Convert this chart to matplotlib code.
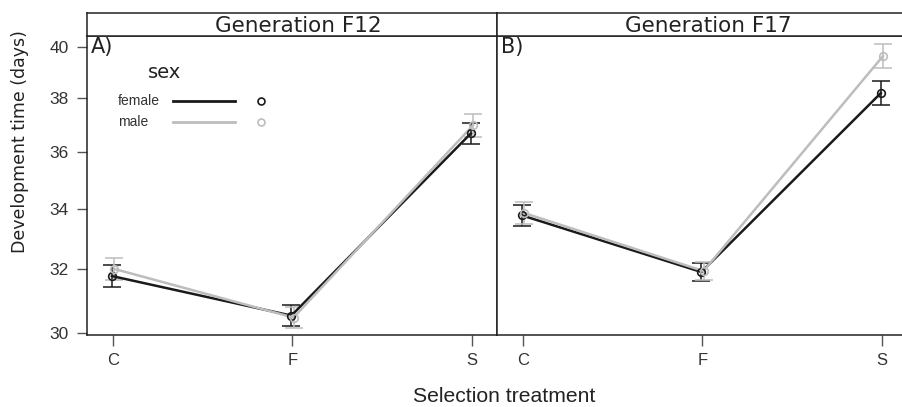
import matplotlib
matplotlib.use("Agg")
import matplotlib.pyplot as plt
import numpy as np
from matplotlib.ticker import FixedLocator, NullLocator, FixedFormatter

treatments = ["C", "F", "S"]
panels = ["Generation F12", "Generation F17"]
panel_tags = ["A)", "B)"]
sexes = ["female", "male"]
colors = {"female": "#1a1a1a", "male": "#bdbdbd"}

# means and standard errors (days)
f12_female_mean = [31.77, 30.53, 36.67]
f12_female_se = [0.35, 0.33, 0.39]
f12_male_mean = [32.00, 30.47, 36.97]
f12_male_se = [0.35, 0.33, 0.42]
f17_female_mean = [33.77, 31.90, 38.19]
f17_female_se = [0.37, 0.28, 0.46]
f17_male_mean = [33.85, 31.93, 39.64]
f17_male_se = [0.37, 0.28, 0.48]

yticks = [30, 32, 34, 36, 38, 40]

data = {
    0: {"female": (f12_female_mean, f12_female_se), "male": (f12_male_mean, f12_male_se)},
    1: {"female": (f17_female_mean, f17_female_se), "male": (f17_male_mean, f17_male_se)},
}

W, H = 902, 407
fig = plt.figure(figsize=(W / 100, H / 100), dpi=100)

def px_axes(x0, y0, x1, y1):
    return fig.add_axes([x0 / W, 1 - y1 / H, (x1 - x0) / W, (y1 - y0) / H])

panel_x = [(87, 497), (497, 907)]
top, bottom = 36, 335
strip_top = 13
dodge = {"female": -0.006, "male": 0.006}

for i in range(2):
    x0, x1 = panel_x[i]
    ax = px_axes(x0, top, x1, bottom)
    xs = np.arange(len(treatments))
    for sex in sexes:
        m, se = data[i][sex]
        xx = xs + dodge[sex]
        ax.errorbar(xx, m, yerr=se, fmt="none", ecolor=colors[sex],
                    elinewidth=1.1, capsize=6.5, capthick=1.1, zorder=3)
        ax.plot(xx, m, "-", color=colors[sex], lw=1.8, zorder=4)
        ax.plot(xx, m, "o", mfc="none", mec=colors[sex], ms=5.5, mew=1.2, zorder=5)
    ax.set_yscale("log")
    ax.set_ylim(29.94, 40.45)
    ax.set_xlim(-0.145, 2.14)
    ax.yaxis.set_major_locator(FixedLocator(yticks))
    ax.yaxis.set_major_formatter(FixedFormatter([str(t) for t in yticks]))
    ax.yaxis.set_minor_locator(NullLocator())
    ax.set_xticks(xs)
    ax.set_xticklabels(treatments, family="Liberation Sans", fontsize=12)
    ax.tick_params(axis="x", length=8, width=1, color="#555555", pad=5, labelcolor="#333333")
    if i == 0:
        ax.tick_params(axis="y", length=7, width=1, color="#555555", pad=6, labelcolor="#333333")
        for lab in ax.get_yticklabels():
            lab.set_family("Liberation Sans")
            lab.set_fontsize(12.5)
    else:
        ax.tick_params(axis="y", left=False, labelleft=False)
    for s in ax.spines.values():
        s.set_linewidth(1.1)
        s.set_color("#222222")
    ax.text(0.01, 0.995, panel_tags[i], transform=ax.transAxes, ha="left", va="top",
            fontsize=15, family="DejaVu Sans", color="#222222")
    # strip
    sax = px_axes(x0, strip_top, x1, top)
    sax.set_xticks([]); sax.set_yticks([])
    for s in sax.spines.values():
        s.set_linewidth(1.1)
        s.set_color("#222222")
    sax.text(0.515, 0.45, panels[i], transform=sax.transAxes, ha="center", va="center",
             fontsize=15.5, family="DejaVu Sans", color="#222222")
    if i == 0:
        # legend
        fig.text(165 / W, 1 - 72 / H, "sex", ha="center", va="center",
                 fontsize=14, family="DejaVu Sans", color="#222222")
        for j, sex in enumerate(sexes):
            yy = 101 + 21 * j
            fig.text(118 / W, 1 - yy / H, sex, ha="left", va="center",
                     fontsize=10, family="Liberation Sans", color="#333333")
            fig.add_artist(plt.Line2D([173 / W, 235 / W], [1 - yy / H, 1 - yy / H],
                                      color=colors[sex], lw=2, transform=fig.transFigure))
            fig.add_artist(plt.Line2D([261 / W], [1 - yy / H], marker="o", mfc="none",
                                      mec=colors[sex], ms=5, mew=1.2, transform=fig.transFigure))

fig.text(20 / W, 1 - 142 / H, "Development time (days)", rotation=90, ha="center", va="center",
         fontsize=12.5, family="DejaVu Sans", color="#222222")
fig.text(504 / W, 1 - 397 / H, "Selection treatment", ha="center", va="center",
         fontsize=15.2, family="Liberation Sans", color="#222222")

fig.savefig("out.png", dpi=100)
